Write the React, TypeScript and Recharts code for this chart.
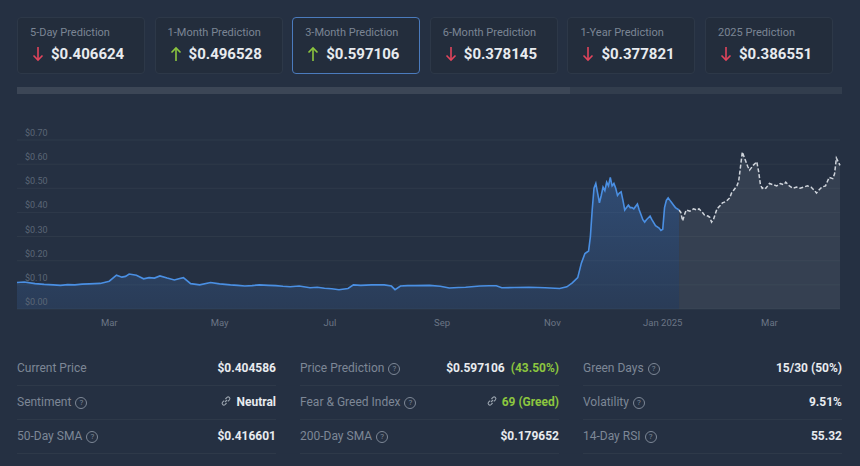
import React from 'react';
import { ComposedChart, Area, XAxis, YAxis, CartesianGrid } from 'recharts';

// days counted from 2024-01-10
const histDays = [
  0, 4, 10, 15, 20, 24, 28, 32, 36, 40, 46, 51, 55, 58, 60, 62, 66, 70, 73, 76, 79, 83, 87, 90, 92, 96,
  101, 107, 112, 118, 122, 126, 130, 134, 139, 143, 147, 151, 156, 162, 166, 170, 174, 178, 183, 186,
  190, 196, 203, 207, 209, 212, 216, 220, 228, 234, 239, 244, 248, 256, 261, 265, 268, 275, 283, 288,
  292, 300, 304, 307, 310, 312, 314, 315, 316, 317, 318, 319, 320, 321, 322, 323, 324, 325, 326, 327,
  328, 329, 330, 331, 332, 333, 334, 335, 336, 337, 338, 339, 340, 341, 343, 344, 345, 346, 347, 348,
  350, 351, 353, 355, 356, 357, 358, 359, 360, 361, 362, 363, 364, 366,
];
const histPrices = [
  0.11, 0.112, 0.105, 0.102, 0.1, 0.098, 0.101, 0.1, 0.103, 0.104, 0.106, 0.115, 0.14, 0.132, 0.135, 0.145,
  0.14, 0.125, 0.13, 0.128, 0.137, 0.128, 0.12, 0.126, 0.13, 0.105,
  0.1, 0.11, 0.104, 0.1, 0.098, 0.095, 0.097, 0.1, 0.098, 0.097, 0.094, 0.092, 0.095, 0.088, 0.09, 0.086,
  0.084, 0.08, 0.085, 0.1,
  0.098, 0.1, 0.1, 0.095, 0.08, 0.095, 0.097, 0.097, 0.098, 0.094, 0.087, 0.089, 0.09, 0.095, 0.096,
  0.096, 0.088, 0.089, 0.09, 0.089, 0.088, 0.085, 0.092, 0.108, 0.13, 0.19, 0.23, 0.235, 0.24, 0.3, 0.41,
  0.5, 0.52, 0.48, 0.44, 0.47, 0.505, 0.49, 0.525, 0.51, 0.545, 0.51, 0.52, 0.5, 0.47, 0.48, 0.485, 0.45,
  0.41, 0.42, 0.43, 0.42, 0.42, 0.415, 0.435, 0.41, 0.39, 0.37, 0.36, 0.37, 0.385, 0.37, 0.345, 0.335,
  0.325, 0.33, 0.42, 0.45, 0.46, 0.45, 0.44, 0.43, 0.42, 0.41,
];

const fcDays = [
  366, 367, 368, 369, 370, 372, 374, 376, 377, 379, 380, 382, 383, 384, 385, 387, 389, 390, 392, 394, 395,
  396, 398, 399, 401, 402, 404, 405, 407, 409, 410, 411, 412, 413, 414, 416, 418, 420, 422, 424, 425, 427,
  429, 431, 433, 435, 437, 439, 441, 442, 443, 445, 447, 449, 451, 452, 453, 454, 455,
];
const fcPrices = [
  0.41, 0.4, 0.365, 0.39, 0.41, 0.405, 0.415, 0.41, 0.415, 0.4, 0.39, 0.385, 0.38, 0.36, 0.37, 0.415, 0.43,
  0.44, 0.445, 0.46, 0.48, 0.49, 0.51, 0.53, 0.65, 0.63, 0.59, 0.575, 0.595, 0.61, 0.57, 0.515, 0.5, 0.505,
  0.5, 0.52, 0.515, 0.51, 0.52, 0.515, 0.525, 0.51, 0.5, 0.505, 0.5, 0.505, 0.51, 0.505, 0.49, 0.48, 0.49,
  0.505, 0.51, 0.545, 0.54, 0.56, 0.625, 0.61, 0.595,
];

const monthTicks = [51, 112, 173, 235, 296, 357, 416];
const monthLabels = ['Mar', 'May', 'Jul', 'Sep', 'Nov', 'Jan 2025', 'Mar'];
const priceTicks = [0, 0.1, 0.2, 0.3, 0.4, 0.5, 0.6, 0.7];

const cardTitles = ['5-Day Prediction', '1-Month Prediction', '3-Month Prediction', '6-Month Prediction', '1-Year Prediction', '2025 Prediction'];
const cardValues = ['$0.406624', '$0.496528', '$0.597106', '$0.378145', '$0.377821', '$0.386551'];
const cardUp = [false, true, true, false, false, false];

const rows = [
  ...histDays.map((d, i) => ({ day: d, hist: histPrices[i] })),
  ...fcDays.map((d, i) => ({ day: d, fc: fcPrices[i] })),
];

const BG = '#253042';
const FONT = "Roboto, 'Noto Sans', sans-serif";
const RED = '#e2445c';
const GREEN = '#8cc63f';

function Arrow({ up }: { up: boolean }) {
  const c = up ? GREEN : RED;
  return (
    <svg width="12" height="16" viewBox="0 0 12 16" style={{ marginRight: 7 }}>
      {up ? (
        <g stroke={c} strokeWidth="1.6" fill="none">
          <line x1="6" y1="2" x2="6" y2="15" />
          <polyline points="1.5,6.5 6,2 10.5,6.5" />
        </g>
      ) : (
        <g stroke={c} strokeWidth="1.6" fill="none">
          <line x1="6" y1="1" x2="6" y2="14" />
          <polyline points="1.5,9.5 6,14 10.5,9.5" />
        </g>
      )}
    </svg>
  );
}

function Help() {
  return (
    <span style={{
      display: 'inline-block', width: 10, height: 10, borderRadius: 6, border: '1px solid #7d8796',
      fontSize: 8, lineHeight: '10px', textAlign: 'center', marginLeft: 4, verticalAlign: 1, color: '#7d8796',
    }}>?</span>
  );
}

function LinkIcon({ color }: { color: string }) {
  return (
    <svg width="12" height="12" viewBox="0 0 12 12" style={{ marginRight: 4, verticalAlign: -1 }}>
      <g stroke={color} strokeWidth="1.1" fill="none">
        <path d="M5 7 L7 5" />
        <path d="M4.2 5.6 L2.6 7.2 a1.7 1.7 0 0 0 2.4 2.4 L6.6 8" />
        <path d="M7.8 6.4 L9.4 4.8 a1.7 1.7 0 0 0 -2.4 -2.4 L5.4 4" />
      </g>
    </svg>
  );
}

const stats: { label: string; help: boolean; value: React.ReactNode }[][] = [
  [
    { label: 'Current Price', help: false, value: '$0.404586' },
    { label: 'Sentiment', help: true, value: <><LinkIcon color="#9aa3ae" />Neutral</> },
    { label: '50-Day SMA', help: true, value: '$0.416601' },
  ],
  [
    { label: 'Price Prediction', help: true, value: <>$0.597106 <span style={{ color: GREEN, marginLeft: 3 }}>(43.50%)</span></> },
    { label: 'Fear & Greed Index', help: true, value: <span style={{ color: GREEN }}><LinkIcon color="#9aa3ae" />69 (Greed)</span> },
    { label: '200-Day SMA', help: true, value: '$0.179652' },
  ],
  [
    { label: 'Green Days', help: true, value: '15/30 (50%)' },
    { label: 'Volatility', help: true, value: '9.51%' },
    { label: '14-Day RSI', help: true, value: '55.32' },
  ],
];
const colLeft = [17, 300, 583];

const renderYTick = (props: any) => (
  <text x={25} y={props.y - 4} fill="#5b6676" fontSize={9} fontFamily={FONT}>
    {'$' + Number(props.payload.value).toFixed(2)}
  </text>
);

export default function App() {
  return (
    <div style={{ position: 'absolute', left: 0, top: 0, width: 860, height: 466, background: BG, fontFamily: FONT, overflow: 'hidden' }}>
      {cardTitles.map((t, i) => (
        <div key={t} style={{
          position: 'absolute', left: 17 + i * 137.6, top: 17, width: 128, height: 57, boxSizing: 'border-box',
          border: `1px solid ${i === 2 ? '#4b7bbd' : '#2d3848'}`, borderRadius: 4, background: '#232d3c',
        }}>
          <div style={{ position: 'absolute', left: 12, top: 8, fontSize: 11, color: '#7b8594' }}>{t}</div>
          <div style={{ position: 'absolute', left: 14, top: 27, display: 'flex', alignItems: 'center' }}>
            <Arrow up={cardUp[i]} />
            <span style={{ fontSize: 15, fontWeight: 700, color: '#e8ebef' }}>{cardValues[i]}</span>
          </div>
        </div>
      ))}
      <div style={{ position: 'absolute', left: 17, top: 87, width: 825, height: 7, background: '#323d4d' }} />
      <div style={{ position: 'absolute', left: 17, top: 87, width: 553, height: 7, background: '#3c4656' }} />

      <div style={{ position: 'absolute', left: 0, top: 0 }}>
        <ComposedChart width={860} height={340} data={rows} margin={{ top: 140, right: 20, left: 16, bottom: 1 }}>
          <defs>
            <linearGradient id="histFill" x1="0" y1="0" x2="0" y2="1">
              <stop offset="0%" stopColor="#3f72b8" stopOpacity={0.42} />
              <stop offset="100%" stopColor="#3f72b8" stopOpacity={0.18} />
            </linearGradient>
          </defs>
          <CartesianGrid vertical={false} stroke="#2f3a4a" strokeWidth={1} />
          <XAxis
            dataKey="day"
            type="number"
            domain={[0, 455]}
            ticks={monthTicks}
            tickFormatter={(v: number) => monthLabels[monthTicks.indexOf(v)]}
            axisLine={false}
            tickLine={false}
            height={30}
            tick={{ fill: '#6b7585', fontSize: 9.5, fontFamily: FONT }}
            tickMargin={4}
            interval={0}
          />
          <YAxis
            width={1}
            domain={[0, 0.7]}
            ticks={priceTicks}
            axisLine={false}
            tickLine={false}
            interval={0}
            tick={renderYTick}
          />
          <Area
            type="linear"
            dataKey="fc"
            stroke="#cfd4db"
            strokeWidth={1.5}
            strokeDasharray="4 2"
            fill="#6a7382"
            fillOpacity={0.24}
            isAnimationActive={false}
            dot={false}
            activeDot={false}
          />
          <Area
            type="linear"
            dataKey="hist"
            stroke="#4a8fe3"
            strokeWidth={1.6}
            fill="url(#histFill)"
            fillOpacity={1}
            isAnimationActive={false}
            dot={false}
            activeDot={false}
          />
        </ComposedChart>
      </div>

      {stats.map((col, ci) =>
        col.map((s, ri) => (
          <div key={`${ci}-${ri}`} style={{
            position: 'absolute', left: colLeft[ci], top: 358 + ri * 34, width: 259, height: 27,
            borderBottom: '1px solid #2e3949', display: 'flex', justifyContent: 'space-between', alignItems: 'flex-start',
            fontSize: 12, lineHeight: '20px',
          }}>
            <span style={{ color: '#7d8796' }}>{s.label}{s.help && <Help />}</span>
            <span style={{ color: '#e8ebef', fontWeight: 700 }}>{s.value}</span>
          </div>
        ))
      )}
    </div>
  );
}
